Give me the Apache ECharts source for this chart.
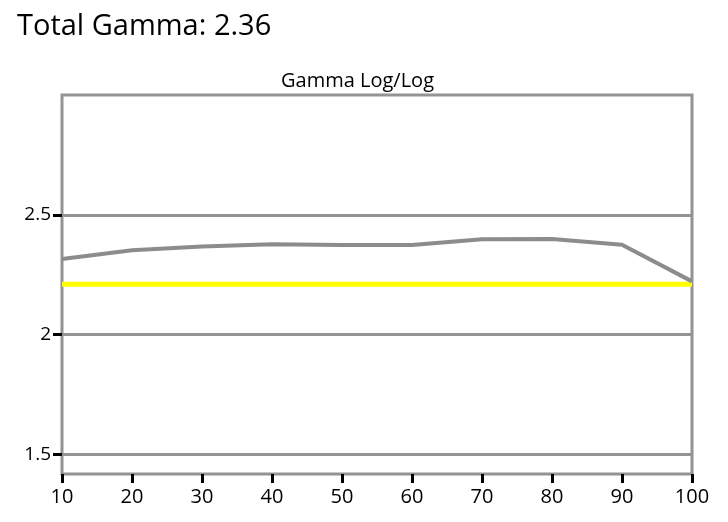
<!DOCTYPE html>
<html>
<head>
<meta charset="utf-8">
<script src="https://cdn.jsdelivr.net/npm/echarts@6/dist/echarts.min.js"></script>
<style>
html,body{margin:0;padding:0;background:#fff;}
#main{width:728px;height:522px;}
</style>
</head>
<body>
<div id="main"></div>
<script>
// 数据
var xValues = [10, 20, 30, 40, 50, 60, 70, 80, 90, 100];
var gammaValues = [2.315, 2.352, 2.368, 2.377, 2.374, 2.374, 2.398, 2.399, 2.375, 2.222];
var targetGamma = 2.21;
var yTicks = [1.5, 2, 2.5];
var totalGamma = '2.36';

var gammaData = [];
for (var i = 0; i < xValues.length; i++) {
	gammaData.push([xValues[i], gammaValues[i]]);
}
var targetData = [[xValues[0], targetGamma], [xValues[xValues.length - 1], targetGamma]];

var gridLines = [];//网格线
for (var j = 0; j < yTicks.length; j++) {
	gridLines.push({yAxis: yTicks[j]});
}

var myChart = echarts.init(document.getElementById('main'));
var font = '"Open Sans", "Noto Sans", sans-serif';
var option = {
	animation: false,
	title: [{
		text: 'Total Gamma: ' + totalGamma,
		left: 12, top: 7,
		textStyle: {fontFamily: font, fontSize: 29, fontWeight: 'normal', color: '#000'}
	}, {
		text: 'Gamma Log/Log',
		left: 276, top: 66,
		textStyle: {fontFamily: font, fontSize: 20, fontWeight: 'normal', color: '#000'}
	}],
	grid: {
		left: 62, right: 36, top: 95, bottom: 48,
		show: true, borderColor: '#939393', borderWidth: 3, backgroundColor: '#fff'
	},
	xAxis: {
		type: 'value', min: 10, max: 100, interval: 10,
		axisLine: {show: false},
		axisTick: {show: true, length: 9, lineStyle: {color: '#000', width: 3}},
		axisLabel: {color: '#000', fontFamily: font, fontSize: 20, margin: 13},
		splitLine: {show: false}
	},
	yAxis: {
		type: 'value', min: 1.418, max: 3.0,
		axisLine: {show: false},
		axisTick: {show: true, length: 9, customValues: yTicks, lineStyle: {color: '#000', width: 3}},
		axisLabel: {color: '#000', fontFamily: font, fontSize: 19, margin: 11, customValues: yTicks},
		splitLine: {show: false}
	},
	series: [{
		type: 'line',
		data: targetData,
		symbol: 'none',
		lineStyle: {color: '#ffff00', width: 5},
		markLine: {
			silent: true, symbol: 'none',
			label: {show: false},
			lineStyle: {color: '#939393', width: 3, type: 'solid'},
			data: gridLines
		},
		z: 2
	}, {
		type: 'line',
		data: gammaData,
		symbol: 'none',
		lineStyle: {color: '#8c8c8c', width: 4},
		z: 3
	}]
};
myChart.setOption(option);
</script>
</body>
</html>
